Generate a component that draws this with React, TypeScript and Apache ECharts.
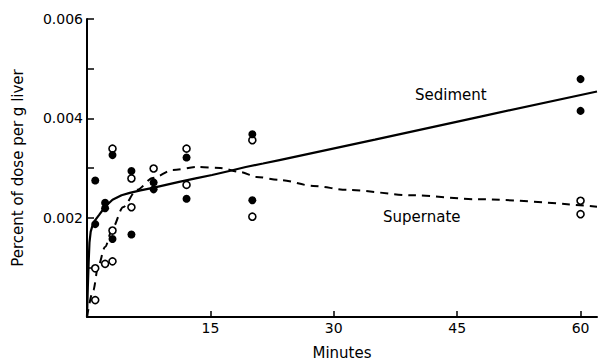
import React, { useEffect, useRef } from "react";
import * as echarts from "echarts";

// Measured points (minutes, percent of dose per g liver)
const sedimentPoints: [number, number][] = [
  [1, 0.00275], [1, 0.00187],
  [2.2, 0.0023], [2.2, 0.00219],
  [3.1, 0.00326], [3.1, 0.00157],
  [5.4, 0.00294], [5.4, 0.00166],
  [8.1, 0.00271], [8.1, 0.00257],
  [12.1, 0.00321], [12.1, 0.00238],
  [20.1, 0.00368], [20.1, 0.00235],
  [60, 0.00479], [60, 0.00415],
];

const supernatePoints: [number, number][] = [
  [1, 0.00098], [1, 0.00034],
  [2.2, 0.00107],
  [3.1, 0.00112], [3.1, 0.00174], [3.1, 0.00339],
  [5.4, 0.00279], [5.4, 0.00221],
  [8.1, 0.00299],
  [12.1, 0.00339], [12.1, 0.00266],
  [20.1, 0.00356], [20.1, 0.00202],
  [60, 0.00234], [60, 0.00207],
];

// Fitted curves
const sedimentCurve: [number, number][] = [
  [0, 0], [0.1, 0.0006], [0.2, 0.0011], [0.3, 0.0015], [0.45, 0.00172],
  [0.7, 0.00186], [1.0, 0.00195], [1.5, 0.00206], [2.2, 0.00222],
  [3.1, 0.00236], [4.2, 0.00245], [5.2, 0.0025], [6.5, 0.00255],
  [8, 0.0026], [9.6, 0.00266], [11.2, 0.00272], [13.2, 0.00279],
  [15.2, 0.00286], [17.3, 0.00294], [19.3, 0.00302], [21.4, 0.00309],
  [23.4, 0.00316], [35, 0.00357], [47.7, 0.00403], [62, 0.00454],
];

const supernateCurve: [number, number][] = [
  [0, 0], [0.77, 0.00054], [1.34, 0.00101], [2.19, 0.00141], [3.16, 0.00181],
  [4.37, 0.00221], [6.07, 0.00256], [8, 0.0028], [10.45, 0.00296],
  [13.4, 0.00302], [16.2, 0.003], [18.6, 0.00292], [20.6, 0.00282],
  [23.4, 0.00276], [27.5, 0.00264], [31.6, 0.00256], [39.6, 0.00245],
  [47.7, 0.00237], [62, 0.00222],
];

const xTickLabels = ["15", "30", "45", "60"];
const yTickLabels = ["0.002", "0.004", "0.006"];

const FONT = "DejaVu Sans";

export default function App() {
  const ref = useRef<HTMLDivElement>(null);
  useEffect(() => {
    if (!ref.current) return;
    const chart = echarts.init(ref.current, undefined, { renderer: "svg" });
    chart.setOption({
      animation: false,
      backgroundColor: "#fff",
      grid: {
        left: 87,
        top: 19,
        right: 3,
        bottom: 43,
        containLabel: false,
        outerBoundsMode: "none",
      },
      xAxis: {
        type: "value",
        min: 0,
        max: 62,
        interval: 15,
        name: "Minutes",
        nameLocation: "middle",
        nameGap: 28,
        nameTextStyle: { fontFamily: FONT, fontSize: 15, color: "#000" },
        axisLine: { show: true, lineStyle: { color: "#000", width: 2 } },
        axisTick: { show: true, inside: true, length: 6, lineStyle: { color: "#000", width: 1.5 } },
        axisLabel: {
          show: true,
          margin: 4,
          color: "#000",
          fontFamily: FONT,
          fontSize: 14,
          showMinLabel: false,
          showMaxLabel: false,
          formatter: (v: number) => {
            const s = String(Math.round(v));
            return xTickLabels.includes(s) ? s : "";
          },
        },
        splitLine: { show: false },
      },
      yAxis: {
        type: "value",
        min: 0,
        max: 0.006,
        interval: 0.001,
        name: "Percent of dose per g liver",
        nameLocation: "middle",
        nameGap: 62,
        nameTextStyle: { fontFamily: FONT, fontSize: 15, color: "#000" },
        axisLine: { show: true, lineStyle: { color: "#000", width: 2 } },
        axisTick: { show: true, inside: true, length: 7, lineStyle: { color: "#000", width: 1.5 } },
        axisLabel: {
          show: true,
          margin: 4,
          color: "#000",
          fontFamily: FONT,
          fontSize: 14,
          formatter: (v: number) => {
            const s = v.toFixed(3);
            return yTickLabels.includes(s) ? s : "";
          },
        },
        splitLine: { show: false },
      },
      series: [
        {
          type: "line",
          data: sedimentCurve,
          showSymbol: false,
          smooth: false,
          lineStyle: { color: "#000", width: 2.2 },
          z: 2,
        },
        {
          type: "line",
          data: supernateCurve,
          showSymbol: false,
          smooth: 0.3,
          smoothMonotone: "x",
          lineStyle: { color: "#000", width: 2, type: [8, 6] },
          z: 2,
        },
        {
          type: "scatter",
          data: supernatePoints,
          symbol: "circle",
          symbolSize: 7,
          itemStyle: { color: "#fff", borderColor: "#000", borderWidth: 1.6, opacity: 1 },
          z: 3,
        },
        {
          type: "scatter",
          data: sedimentPoints,
          symbol: "circle",
          symbolSize: 8,
          itemStyle: { color: "#000", opacity: 1 },
          z: 4,
        },
      ],
      graphic: [
        {
          type: "text",
          left: 415,
          top: 87,
          style: { text: "Sediment", fontFamily: FONT, fontSize: 15, fill: "#000" },
        },
        {
          type: "text",
          left: 383,
          top: 209,
          style: { text: "Supernate", fontFamily: FONT, fontSize: 15, fill: "#000" },
        },
      ],
    });
    return () => chart.dispose();
  }, []);
  return (
    <div
      ref={ref}
      style={{ position: "absolute", left: 0, top: 0, width: 600, height: 360 }}
    />
  );
}
